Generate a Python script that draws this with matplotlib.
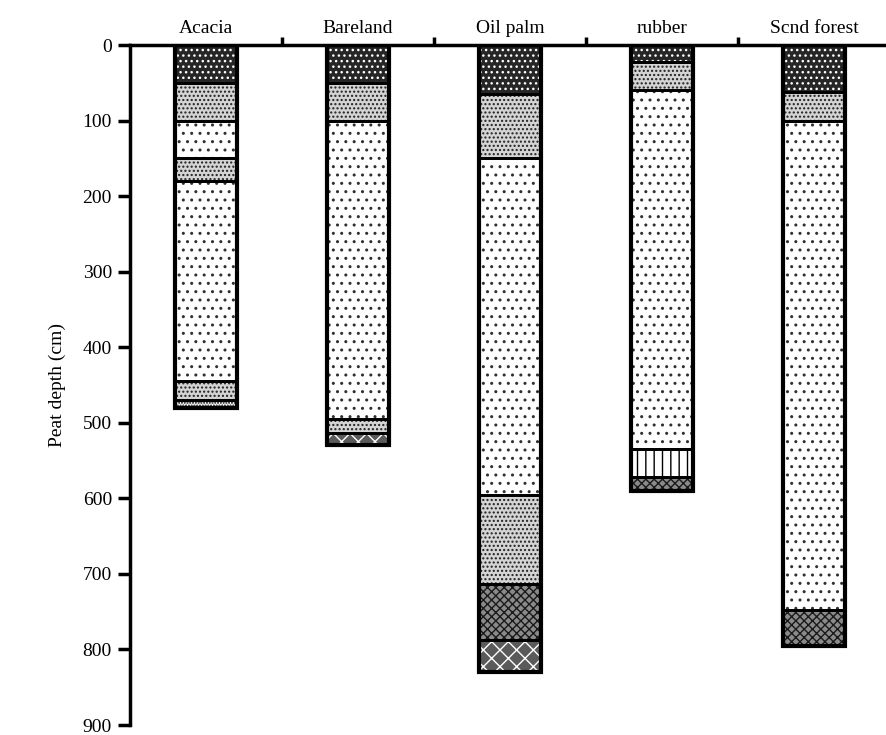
import matplotlib
matplotlib.use("Agg")
import matplotlib.pyplot as plt

plt.rcParams['font.family'] = ['Liberation Serif', 'DejaVu Serif']
plt.rcParams['hatch.linewidth'] = 1.0

categories = ["Acacia", "Bareland", "Oil palm", "rubber", "Scnd forest"]
# layer boundaries (cm) for each site, top to bottom
boundaries = [
    [0, 50, 100, 150, 180, 445, 470, 480],
    [0, 50, 100, 495, 513, 530],
    [0, 65, 150, 595, 713, 788, 830],
    [0, 22, 60, 535, 572, 590],
    [0, 62, 100, 748, 795],
]
# layer type of each segment
layer_types = [
    ["A", "B", "C", "B", "C", "B", "G"],
    ["A", "B", "C", "B", "E"],
    ["A", "B", "C", "B", "D", "E"],
    ["A", "B", "C", "F", "D"],
    ["A", "B", "C", "D"],
]
yticks = [0, 100, 200, 300, 400, 500, 600, 700, 800, 900]

# style per layer type: (facecolor, hatch, hatch colour)
styles = {
    "A": ("#262626", "...", "#ffffff"),
    "B": ("#d4d4d4", "....", "#202020"),
    "C": ("#ffffff", "..", "#303030"),
    "D": ("#8a8a8a", "xxxx", "#1a1a1a"),
    "E": ("#5a5a5a", "xx", "#ffffff"),
    "F": ("#ffffff", "||", "#000000"),
    "G": ("#ffffff", "......", "#000000"),
}

fig = plt.figure(figsize=(8.86, 7.35), dpi=100)
ax = fig.add_axes([130/886, 1-725/735, 760/886, 680/735])

width = 0.41
for i, (b, t) in enumerate(zip(boundaries, layer_types)):
    for j, lt in enumerate(t):
        top, bot = b[j], b[j+1]
        fc, h, hc = styles[lt]
        ax.bar(i, bot-top, bottom=top, width=width, color=fc, linewidth=0, zorder=2)
        ax.bar(i, bot-top, bottom=top, width=width, fill=False, hatch=h,
               edgecolor=hc, linewidth=0, zorder=3)
        ax.bar(i, bot-top, bottom=top, width=width, fill=False,
               edgecolor="black", linewidth=2.0, zorder=4)
    ax.bar(i, b[-1], bottom=0, width=width, fill=False, edgecolor="black",
           linewidth=3.0, zorder=5)

ax.set_xlim(-0.5, 4.5)
ax.set_ylim(900, 0)
ax.spines['right'].set_visible(False)
ax.spines['bottom'].set_visible(False)
ax.spines['left'].set_linewidth(2.5)
ax.spines['top'].set_linewidth(2.5)
ax.spines['left'].set_bounds(0, 900)

ax.set_yticks(yticks)
ax.set_yticklabels([str(v) for v in yticks], fontsize=14)
ax.tick_params(axis='y', direction='out', length=9, width=2.5, pad=4)

ax.xaxis.tick_top()
ax.set_xticks(range(len(categories)))
ax.set_xticklabels(categories, fontsize=14)
ax.tick_params(axis='x', which='major', length=0, pad=6)
ax.set_xticks([0.5, 1.5, 2.5, 3.5], minor=True)
ax.tick_params(axis='x', which='minor', direction='out', length=6, width=2.5, top=True, bottom=False)

ax.set_ylabel("Peat depth (cm)", fontsize=14, labelpad=12)

fig.savefig("out.png", dpi=100)
